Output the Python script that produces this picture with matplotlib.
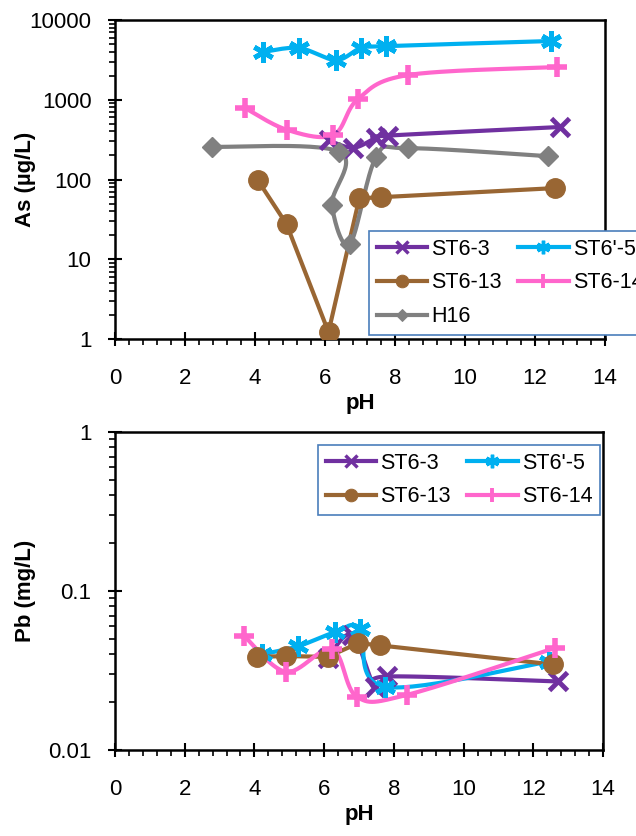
import numpy as np
import matplotlib
matplotlib.use("Agg")
import matplotlib.pyplot as plt
from matplotlib.ticker import MultipleLocator, LogLocator, NullFormatter, FixedFormatter, FixedLocator

plt.rcParams["font.family"] = ["Liberation Sans", "DejaVu Sans"]

# --- As (ug/L) vs pH ---
ph_st6_3 = [6.1, 6.8, 7.45, 7.8, 12.7]
as_st6_3 = [310, 250, 330, 355, 455]

ph_st6p_5 = [4.23, 5.26, 6.31, 7.03, 7.74, 12.46]
as_st6p_5 = [3980, 4450, 3150, 4450, 4700, 5450]

ph_st6_13 = [4.08, 4.9, 6.1, 6.98, 7.6, 12.57]
as_st6_13 = [98, 27.6, 1.22, 58, 60, 78]

ph_st6_14 = [3.71, 4.91, 6.23, 6.94, 8.37, 12.63]
as_st6_14 = [790, 420, 360, 1020, 2040, 2570]

ph_h16 = [2.77, 6.4, 6.2, 6.71, 7.46, 8.37, 12.37]
as_h16 = [257, 223, 48, 15.5, 191, 247, 196]

# --- Pb (mg/L) vs pH ---
pb_st6_3 = [0.038, 0.053, 0.025, 0.029, 0.027]
pb_st6p_5 = [0.040, 0.045, 0.055, 0.058, 0.025, 0.036]
pb_st6_13 = [0.0385, 0.039, 0.0385, 0.047, 0.0455, 0.0345]
pb_st6_14 = [0.052, 0.031, 0.043, 0.0216, 0.0222, 0.0439]

purple = "#7030A0"
cyan = "#00B0F0"
brown = "#996633"
pink = "#FF66CC"
gray = "#808080"


def smooth(x, y, n=30):
    # Excel-like smoothed line: Bezier through the points in (x, log y)
    px = np.asarray(x, float)
    py = np.log10(np.asarray(y, float))
    P = np.column_stack([px, py])
    P = np.vstack([P[0], P, P[-1]])
    out = []
    t = np.linspace(0, 1, n)
    for i in range(1, len(P) - 2):
        p0, p1, p2, p3 = P[i - 1], P[i], P[i + 1], P[i + 2]
        c1 = p1 + (p2 - p0) / 6
        c2 = p2 - (p3 - p1) / 6
        seg = ((1 - t) ** 3)[:, None] * p1 + (3 * (1 - t) ** 2 * t)[:, None] * c1 \
            + (3 * (1 - t) * t ** 2)[:, None] * c2 + (t ** 3)[:, None] * p2
        out.append(seg)
    out = np.vstack(out)
    return out[:, 0], 10 ** out[:, 1]


asterisk = (6, 2, 0)


def series(ax, x, y, color, marker, ms, mew, label, smoothed=True):
    if smoothed:
        sx, sy = smooth(x, y)
    else:
        sx, sy = x, y
    ax.plot(sx, sy, color=color, lw=3, solid_capstyle="round", zorder=2)
    ax.plot(x, y, ls="none", marker=marker, ms=ms, mew=mew, color=color,
            mec=color, zorder=3)
    # legend proxy with smaller marker
    return ax.plot([], [], color=color, lw=3, marker=marker, ms=ms * 0.65,
                   mew=mew * 0.7, mec=color, label=label)[0]


def style_axes(ax, ymin, ymax, ylabels, ylabel, w):
    ax.set_xlim(0, 14)
    ax.set_yscale("log")
    ax.set_ylim(ymin, ymax)
    ax.xaxis.set_major_locator(MultipleLocator(2))
    ax.xaxis.set_minor_locator(MultipleLocator(0.4))
    ax.yaxis.set_minor_locator(LogLocator(base=10, subs=np.arange(2, 10)))
    ax.yaxis.set_minor_formatter(NullFormatter())
    ax.yaxis.set_major_locator(FixedLocator([float(v) for v in ylabels]))
    ax.yaxis.set_major_formatter(FixedFormatter(ylabels))
    ax.tick_params(which="major", direction="inout", length=10, width=1.5,
                   labelsize=16)
    ax.tick_params(which="minor", direction="out", length=4, width=1.2)
    ax.tick_params(axis="x", which="major", pad=16)
    ax.tick_params(axis="y", which="major", pad=12)
    for s in ax.spines.values():
        s.set_linewidth(1.8)
    ax.set_xlabel("pH", fontsize=16, fontweight="bold", labelpad=3)
    ax.set_ylabel(ylabel, fontsize=16, fontweight="bold")
    ax.yaxis.set_label_coords(-79 / w, 0.5)


def add_legend(ax, handles, x, y):
    leg = ax.legend(handles=handles, ncol=2, loc="upper left",
                    bbox_to_anchor=(x / W, 1 - y / H),
                    bbox_transform=fig.transFigure, fontsize=15.5,
                    handlelength=2.35, handletextpad=0.2, columnspacing=0.75,
                    labelspacing=0.6, borderaxespad=0, borderpad=0.35,
                    fancybox=False, framealpha=1, edgecolor="#4A7EBB")
    leg.get_frame().set_linewidth(1.2)
    return leg


fig = plt.figure(figsize=(6.36, 8.36), dpi=100)
W, H = 636, 836

ax1 = fig.add_axes([115 / W, 1 - 339 / H, 490 / W, 319 / H])
h1 = series(ax1, ph_st6_3, as_st6_3, purple, "x", 13, 3.5, "ST6-3")
h2 = series(ax1, ph_st6p_5, as_st6p_5, cyan, asterisk, 15, 3.5, "ST6'-5")
h3 = series(ax1, ph_st6_13, as_st6_13, brown, "o", 14, 1, "ST6-13", smoothed=False)
h4 = series(ax1, ph_st6_14, as_st6_14, pink, "+", 15, 4, "ST6-14")
h5 = series(ax1, ph_h16, as_h16, gray, "D", 10, 1, "H16")
style_axes(ax1, 1, 10000, ["1", "10", "100", "1000", "10000"], "As (µg/L)", 490)
add_legend(ax1, [h1, h3, h5, h2, h4], 369, 231)

ax2 = fig.add_axes([115 / W, 1 - 750 / H, 488 / W, 318 / H])
g1 = series(ax2, ph_st6_3, pb_st6_3, purple, "x", 13, 3.5, "ST6-3")
g2 = series(ax2, ph_st6p_5, pb_st6p_5, cyan, asterisk, 15, 3.5, "ST6'-5")
g3 = series(ax2, ph_st6_13, pb_st6_13, brown, "o", 14, 1, "ST6-13", smoothed=False)
g4 = series(ax2, ph_st6_14, pb_st6_14, pink, "+", 15, 4, "ST6-14")
style_axes(ax2, 0.01, 1, ["0.01", "0.1", "1"], "Pb (mg/L)", 488)
add_legend(ax2, [g1, g3, g2, g4], 318, 445)

fig.savefig("out.png", dpi=100)
